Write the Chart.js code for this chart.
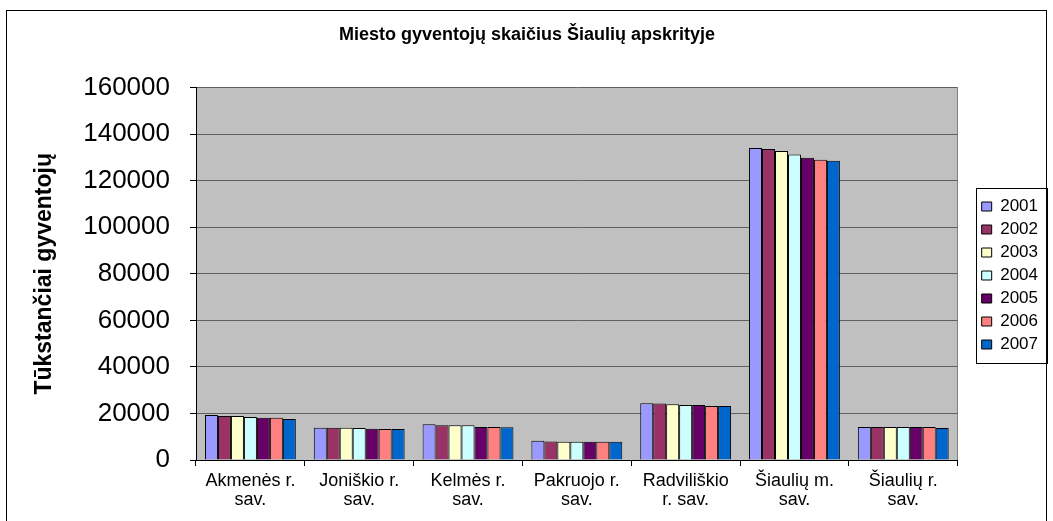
<!DOCTYPE html>
<html>
<head>
<meta charset="utf-8">
<title>Miesto gyventojų skaičius</title>
<script src="https://cdn.jsdelivr.net/npm/chart.js@4.4.0/dist/chart.umd.min.js"></script>
<style>
  body { margin: 0; background: #fff; }
</style>
</head>
<body>
<canvas id="myChart" width="1053" height="521"></canvas>
<script>
var categories = [
  ['Akmenės r.', 'sav.'],
  ['Joniškio r.', 'sav.'],
  ['Kelmės r.', 'sav.'],
  ['Pakruojo r.', 'sav.'],
  ['Radviliškio', 'r. sav.'],
  ['Šiaulių m.', 'sav.'],
  ['Šiaulių r.', 'sav.']
];
var years = ['2001', '2002', '2003', '2004', '2005', '2006', '2007'];
var y2001 = [19350, 13900, 15350, 8300, 24400, 134050, 14200];
var y2002 = [18900, 13850, 14900, 7900, 24300, 133650, 14200];
var y2003 = [18900, 13850, 14900, 7850, 23950, 132750, 14150];
var y2004 = [18500, 13800, 14900, 7850, 23650, 131300, 14150];
var y2005 = [18100, 13400, 14200, 7800, 23600, 129900, 14150];
var y2006 = [18100, 13350, 14150, 7800, 23250, 129050, 14150];
var y2007 = [17600, 13300, 14100, 7800, 23200, 128600, 13750];
var yTicks = [0, 20000, 40000, 60000, 80000, 100000, 120000, 140000, 160000];

var series = [y2001, y2002, y2003, y2004, y2005, y2006, y2007];
var colors = ['#9999FF', '#993366', '#FFFFCC', '#CCFFFF', '#660066', '#FF8080', '#0066CC'];
var fontFam = "Arial, 'Liberation Sans', sans-serif";

var datasets = [];
for (var i = 0; i < years.length; i++) {
  datasets.push({
    label: years[i],
    data: series[i],
    backgroundColor: colors[i],
    borderColor: '#000',
    borderWidth: 1,
    barPercentage: 1,
    categoryPercentage: 0.835
  });
}

// plot area background, chart border, legend frame
var excelLook = {
  id: 'excelLook',
  beforeDraw: function (chart) {
    var c = chart.ctx, a = chart.chartArea;
    c.save();
    c.fillStyle = '#fff';
    c.fillRect(0, 0, chart.width, chart.height);
    c.strokeStyle = '#000';
    c.lineWidth = 1;
    c.strokeRect(6.5, 10.5, chart.width - 13, chart.height + 20);
    c.fillStyle = '#C0C0C0';
    c.fillRect(a.left, a.top, a.right - a.left, a.bottom - a.top);
    c.strokeStyle = '#808080';
    c.beginPath();
    c.moveTo(Math.round(a.right) - 0.5, a.top);
    c.lineTo(Math.round(a.right) - 0.5, a.bottom);
    c.stroke();
    c.restore();
  },
  afterDraw: function (chart) {
    var lg = chart.legend;
    if (!lg || !lg.legendHitBoxes.length) return;
    var hb = lg.legendHitBoxes;
    var top = hb[0].top - 10, bottom = hb[hb.length - 1].top + hb[hb.length - 1].height + 10;
    var c = chart.ctx;
    c.save();
    c.strokeStyle = '#000';
    c.lineWidth = 1;
    c.strokeRect(Math.round(lg.left) + 0.5, Math.round(top) + 0.5, Math.round(lg.right - lg.left) - 1, Math.round(bottom - top));
    c.restore();
  }
};

new Chart(document.getElementById('myChart'), {
  type: 'bar',
  data: { labels: categories, datasets: datasets },
  options: {
    responsive: false,
    animation: false,
    layout: { padding: { left: 6, right: 5, top: 0, bottom: 0 } },
    plugins: {
      title: {
        display: true,
        text: 'Miesto gyventojų skaičius Šiaulių apskrityje',
        color: '#000',
        font: { family: fontFam, size: 18, weight: 'bold' },
        padding: { top: 24, bottom: 42 }
      },
      legend: {
        position: 'right',
        // blank title only pushes the items down a bit
        title: { display: true, text: ' ', font: { size: 20, lineHeight: 1 }, padding: 5 },
        labels: {
          color: '#000',
          font: { family: fontFam, size: 17 },
          boxWidth: 10,
          boxHeight: 9,
          padding: 6
        }
      },
      tooltip: { enabled: false }
    },
    scales: {
      x: {
        grid: { display: true, drawOnChartArea: false, offset: true, tickLength: 6, tickColor: '#000' },
        border: { color: '#000' },
        ticks: {
          color: '#000',
          font: { family: fontFam, size: 18, lineHeight: 1.05 },
          padding: 6,
          maxRotation: 0,
          autoSkip: false
        },
        afterFit: function (s) { s.height = 61; }
      },
      y: {
        min: 0,
        max: 160000,
        afterBuildTicks: function (s) {
          s.ticks = yTicks.map(function (v) { return { value: v }; });
        },
        grid: { color: '#606060', tickColor: '#000', tickLength: 6 },
        border: { color: '#000' },
        ticks: {
          color: '#000',
          font: { family: fontFam, size: 26 },
          padding: 20,
          callback: function (v) { return String(v); }
        },
        title: {
          display: true,
          text: 'Tūkstančiai gyventojų',
          color: '#000',
          font: { family: fontFam, size: 23, weight: 'bold' },
          padding: { top: 25, bottom: 0 }
        },
        afterFit: function (s) { s.width = 190; }
      },
      gap: {
        type: 'linear',
        position: 'right',
        display: true,
        grid: { display: false },
        border: { display: false },
        ticks: { display: false },
        afterFit: function (s) { s.width = 18; }
      }
    }
  },
  plugins: [excelLook]
});
</script>
</body>
</html>
